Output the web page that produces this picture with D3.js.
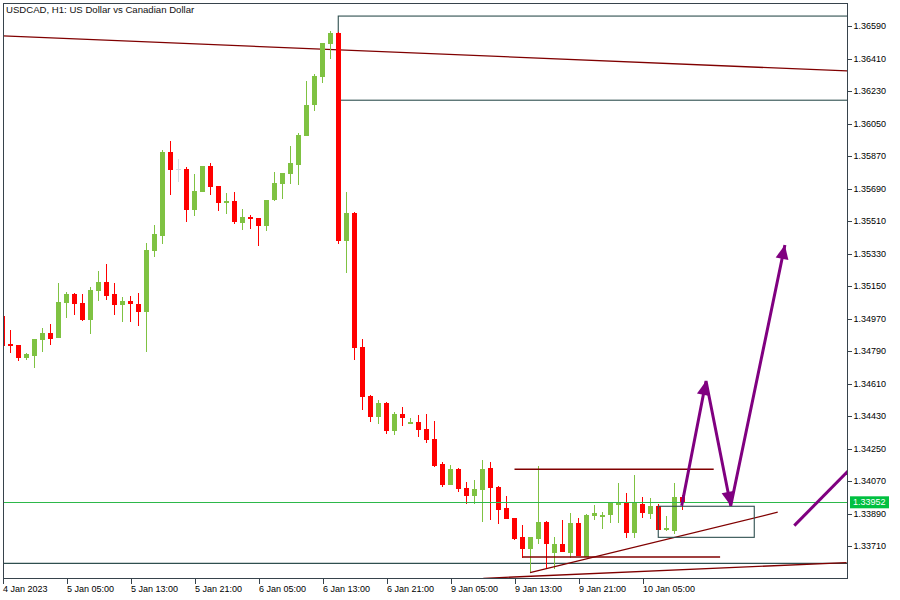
<!DOCTYPE html>
<html><head><meta charset="utf-8">
<script src="https://cdn.jsdelivr.net/npm/d3@7"></script>
<style>body{margin:0;background:#fff}svg{display:block}text{font-family:"Liberation Sans",Arial,sans-serif;fill:#000}</style>
</head><body><svg id="c" width="900" height="600"></svg>
<script>
// ---- data (USDCAD H1) ----
const openP=[1.34984,1.34829,1.34823,1.34751,1.34763,1.34851,1.34891,1.34862,1.35056,1.35106,1.35056,1.34961,1.35123,1.35172,1.35106,1.35045,1.35067,1.35050,1.35006,1.35344,1.35427,1.35892,1.35798,1.35798,1.35569,1.35671,1.35815,1.35704,1.35610,1.35623,1.35499,1.35532,1.35527,1.35482,1.35625,1.35715,1.35770,1.35820,1.35981,1.36153,1.36308,1.36490,1.36551,1.35399,1.35554,1.34812,1.34541,1.34424,1.34503,1.34347,1.34441,1.34385,1.34396,1.34358,1.34303,1.34164,1.34048,1.34136,1.34031,1.33987,1.34020,1.34142,1.34037,1.33920,1.33865,1.33760,1.33694,1.33749,1.33843,1.33672,1.33721,1.33672,1.33838,1.33649,1.33876,1.33871,1.33882,1.33937,1.33948,1.33782,1.33943,1.33887,1.33932,1.33799,1.33793,1.33981];
const highP=[1.34995,1.34906,1.34825,1.34779,1.34858,1.34918,1.34940,1.35167,1.35117,1.35112,1.35106,1.35145,1.35233,1.35272,1.35167,1.35089,1.35094,1.35112,1.35388,1.35488,1.35903,1.35953,1.35853,1.35809,1.35770,1.35817,1.35831,1.35706,1.35665,1.35671,1.35575,1.35543,1.35529,1.35627,1.35781,1.35778,1.35925,1.35998,1.36285,1.36324,1.36498,1.36562,1.36557,1.35671,1.35560,1.34856,1.34547,1.34520,1.34505,1.34452,1.34480,1.34419,1.34436,1.34441,1.34402,1.34176,1.34159,1.34142,1.34064,1.34076,1.34187,1.34176,1.34043,1.33987,1.33867,1.33827,1.33762,1.34153,1.33848,1.33760,1.33854,1.33893,1.33865,1.33887,1.33937,1.33898,1.33954,1.34059,1.34004,1.34103,1.33981,1.33976,1.33943,1.33876,1.34059,1.33993];
const lowP=[1.34807,1.34779,1.34735,1.34740,1.34696,1.34784,1.34823,1.34860,1.34973,1.34989,1.34955,1.34884,1.35067,1.35072,1.34989,1.34950,1.34950,1.34928,1.34784,1.35310,1.35383,1.35654,1.35726,1.35505,1.35538,1.35669,1.35654,1.35565,1.35549,1.35493,1.35460,1.35466,1.35372,1.35455,1.35621,1.35632,1.35715,1.35710,1.35979,1.36119,1.36274,1.36407,1.35383,1.35222,1.34740,1.34463,1.34396,1.34385,1.34330,1.34325,1.34374,1.34383,1.34314,1.34281,1.34147,1.34037,1.34046,1.34009,1.33941,1.33941,1.33843,1.33854,1.33832,1.33857,1.33743,1.33643,1.33566,1.33721,1.33583,1.33583,1.33675,1.33643,1.33653,1.33647,1.33854,1.33804,1.33838,1.33838,1.33754,1.33754,1.33865,1.33859,1.33797,1.33793,1.33776,1.33909];
const closeP=[1.34818,1.34818,1.34751,1.34774,1.34856,1.34891,1.34856,1.35061,1.35106,1.35050,1.34961,1.35128,1.35172,1.35095,1.35045,1.35067,1.35050,1.35006,1.35349,1.35438,1.35892,1.35793,1.35798,1.35569,1.35676,1.35815,1.35698,1.35610,1.35623,1.35505,1.35532,1.35521,1.35482,1.35625,1.35721,1.35776,1.35831,1.35986,1.36153,1.36313,1.36496,1.36551,1.35399,1.35554,1.34807,1.34535,1.34424,1.34503,1.34347,1.34441,1.34419,1.34396,1.34352,1.34297,1.34153,1.34048,1.34136,1.34026,1.33987,1.34026,1.34136,1.34031,1.33909,1.33859,1.33749,1.33694,1.33760,1.33843,1.33721,1.33721,1.33677,1.33838,1.33655,1.33882,1.33893,1.33882,1.33948,1.33948,1.33782,1.33948,1.33893,1.33932,1.33799,1.33810,1.33981,1.33952];

const timeTickIdx=[0,8,16,24,32,40,48,56,64,72,80];
const timeTickLabels=["4 Jan 2023","5 Jan 05:00","5 Jan 13:00","5 Jan 21:00","6 Jan 05:00","6 Jan 13:00","6 Jan 21:00","9 Jan 05:00","9 Jan 13:00","9 Jan 21:00","10 Jan 05:00"];
const priceTicks=[1.36590,1.36410,1.36230,1.36050,1.35870,1.35690,1.35510,1.35330,1.35150,1.34970,1.34790,1.34610,1.34430,1.34250,1.34070,1.33890,1.33710];
const bidPrice=1.33952;
const titleText="USDCAD, H1:  US Dollar vs Canadian Dollar";

// drawings, as [bar index, price]
const upperTrend=[[0,1.36535],[105.6,1.36341]];
const supplyZone=[[41.97,1.36645],[110,1.36179]];
const rangeHigh=[[64,1.34135],[88.9,1.34135]];
const rangeLow=[[65,1.33649],[89.7,1.33649]];
const floorLevel=1.33614;
const risingTrend=[[65.94,1.33562],[96.9,1.33897]];
const lowerTrend=[[60.1,1.33531],[105.5,1.33618]];
const demandZone=[[81.97,1.33930],[93.97,1.33758]];
const projection=[[84.9,1.33933],[87.94,1.34624],[91.03,1.33933],[97.8,1.35377]];
const sideLine=[[98.97,1.33823],[105.7,1.34125]];

// ---- layout ----
const L=3,R=847,T=3,B=578;
const svg=d3.select("#c");
const x=d3.scaleLinear().domain([0,85]).range([2.5,682.5]);
const y=d3.scaleLinear().domain([1.33710,1.36590]).range([546,26]);
const GREEN="#7fc242",RED="#ff0000",DRED="#800000",SLATE="#2f4f4f",PURPLE="#800080",FRAME="#37434c";

svg.append("defs").append("clipPath").attr("id","plot").append("rect")
  .attr("x",L).attr("y",T).attr("width",R-L).attr("height",B-T);
const g=svg.append("g").attr("clip-path","url(#plot)");

const line=d3.line().x(d=>x(d[0])).y(d=>y(d[1]));

g.append("path").attr("d",line(upperTrend)).attr("fill","none").attr("stroke",DRED).attr("stroke-width",1.3);
g.append("rect").attr("x",x(supplyZone[0][0])).attr("y",y(supplyZone[0][1]))
  .attr("width",x(supplyZone[1][0])-x(supplyZone[0][0])).attr("height",y(supplyZone[1][1])-y(supplyZone[0][1]))
  .attr("fill","none").attr("stroke",SLATE).attr("stroke-width",1.1);

g.append("line").attr("x1",L).attr("x2",R).attr("y1",y(floorLevel)).attr("y2",y(floorLevel))
  .attr("stroke",SLATE).attr("stroke-width",1.3);
g.append("path").attr("d",line(lowerTrend)).attr("fill","none").attr("stroke",DRED).attr("stroke-width",1.3);

// candles
const idx=d3.range(openP.length);
const cg=g.append("g").attr("shape-rendering","crispEdges");
function col(i){return closeP[i]>openP[i]?GREEN:(closeP[i]<openP[i]?RED:"#d3dee3");}
cg.selectAll(".w").data(idx).join("rect")
  .attr("x",i=>x(i)-0.5).attr("width",1)
  .attr("y",i=>y(highP[i])).attr("height",i=>Math.max(1,y(lowP[i])-y(highP[i])))
  .attr("fill",col);
cg.selectAll(".b").data(idx).join("rect")
  .attr("x",i=>x(i)-2.5).attr("width",5)
  .attr("y",i=>y(Math.max(openP[i],closeP[i])))
  .attr("height",i=>Math.max(1,Math.abs(y(openP[i])-y(closeP[i]))))
  .attr("fill",col);

// bid line
g.append("line").attr("x1",L).attr("x2",R).attr("y1",Math.round(y(bidPrice))+0.5).attr("y2",Math.round(y(bidPrice))+0.5)
  .attr("stroke","#2db84a").attr("stroke-width",1);

[rangeHigh,rangeLow].forEach(s=>g.append("path").attr("d",line(s)).attr("fill","none").attr("stroke",DRED).attr("stroke-width",1.3));
g.append("path").attr("d",line(risingTrend)).attr("fill","none").attr("stroke",DRED).attr("stroke-width",1.3);
g.append("rect").attr("x",x(demandZone[0][0])).attr("y",y(demandZone[0][1]))
  .attr("width",x(demandZone[1][0])-x(demandZone[0][0])).attr("height",y(demandZone[1][1])-y(demandZone[0][1]))
  .attr("fill","none").attr("stroke",SLATE).attr("stroke-width",1.1);

// projection arrows
g.append("path").attr("d",line(projection)).attr("fill","none").attr("stroke",PURPLE).attr("stroke-width",3).attr("stroke-linejoin","miter");
for(let k=1;k<projection.length;k++){
  const x0=x(projection[k-1][0]),y0=y(projection[k-1][1]),x1=x(projection[k][0]),y1=y(projection[k][1]);
  const dx=x1-x0,dy=y1-y0,len=Math.hypot(dx,dy),ux=dx/len,uy=dy/len;
  const bl=14,hw=6.5;
  const bx=x1-ux*bl,by=y1-uy*bl;
  g.append("path").attr("d",`M${x1},${y1}L${bx-uy*hw},${by+ux*hw}L${bx+uy*hw},${by-ux*hw}Z`).attr("fill",PURPLE);
}
g.append("path").attr("d",line(sideLine)).attr("fill","none").attr("stroke",PURPLE).attr("stroke-width",3);

// frame
svg.append("rect").attr("x",L+0.5).attr("y",T+0.5).attr("width",R-L).attr("height",B-T)
  .attr("fill","none").attr("stroke",FRAME).attr("stroke-width",1).attr("shape-rendering","crispEdges");

// title
svg.append("text").attr("x",6).attr("y",13).attr("font-size","9.6px").style("fill","#111").text(titleText);

// right axis
const ya=svg.append("g").attr("transform",`translate(${R+0.5},0)`)
  .call(d3.axisRight(y).tickValues(priceTicks).tickFormat(d3.format(".5f")).tickSize(4).tickSizeOuter(0));
ya.select(".domain").remove();
ya.selectAll("line").attr("stroke",FRAME).attr("shape-rendering","crispEdges");
ya.selectAll("text").attr("x",6).attr("font-size","9px").attr("font-family","Liberation Sans, Arial, sans-serif").attr("fill","#111");

// bottom axis
const xa=svg.append("g").attr("transform",`translate(0,${B+0.5})`)
  .call(d3.axisBottom(x).tickValues(timeTickIdx).tickFormat((d,i)=>timeTickLabels[i]).tickSize(5).tickSizeOuter(0));
xa.select(".domain").remove();
xa.selectAll("line").attr("stroke",FRAME).attr("shape-rendering","crispEdges");
xa.selectAll("text").attr("text-anchor","start").attr("x",0).attr("y",13.5).attr("dy",null)
  .attr("font-size","9px").attr("font-family","Liberation Sans, Arial, sans-serif").attr("fill","#111");

// bid label
const by=y(bidPrice);
svg.append("rect").attr("x",R+3).attr("y",by-6).attr("width",39).attr("height",12).attr("fill","#00c040");
svg.append("text").attr("x",R+6).attr("y",by).attr("dy","0.35em").attr("font-size","9px").style("fill","#fff").text(d3.format(".5f")(bidPrice));
</script></body></html>
